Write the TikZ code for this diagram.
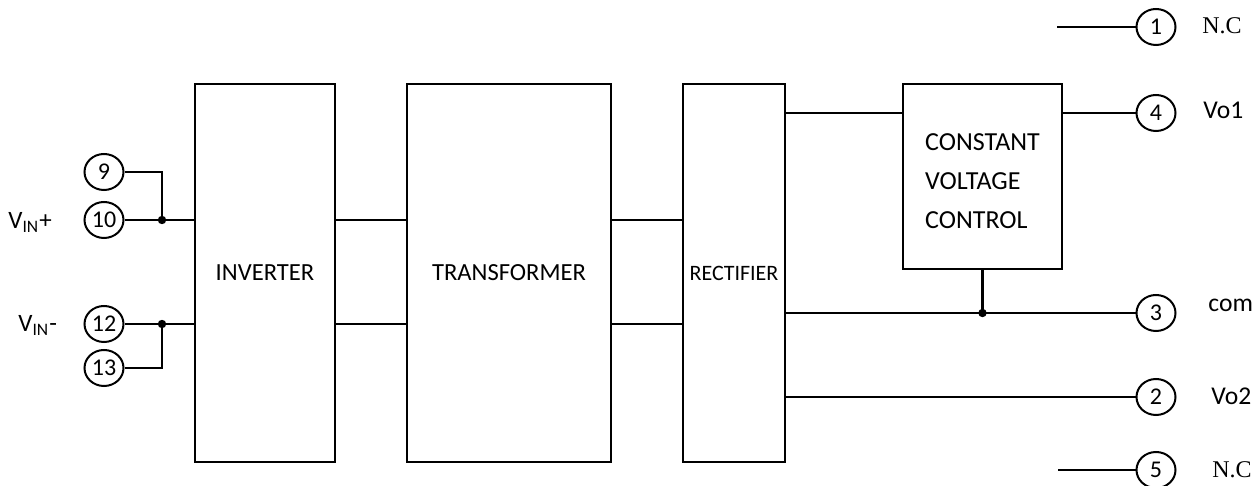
\documentclass[tikz,border=0pt]{standalone}
\usepackage{fontspec}
\setmainfont{Carlito}
\newfontfamily\ncfont{Liberation Serif}
\usetikzlibrary{positioning}
\usetikzlibrary{shapes.geometric}
\tikzset{blk/.style={draw, line width=1.4pt, minimum height=189pt, inner sep=0pt, font=\fontsize{12.3}{19.5}\selectfont}}
\tikzset{pin/.style={draw, ellipse, line width=1pt, minimum width=19.5pt, minimum height=18pt, inner sep=0pt, fill=white, font=\fontsize{12}{12}\selectfont}}
\tikzset{wire/.style={line width=1.2pt}}
\tikzset{jdot/.style={circle, fill, inner sep=0pt, minimum size=4.2pt}}
\tikzset{lbl/.style={anchor=base west, inner sep=0pt, font=\fontsize{12.8}{14}\selectfont}}

\begin{document}
\begin{tikzpicture}[x=0.5pt,y=-0.5pt]
\useasboundingbox (0,0) rectangle (1255,486);

% blocks
\node[blk, minimum width=70pt] (inv) at (265,273) {INVERTER};
\node[blk, minimum width=102pt] (tr) at (509,273) {TRANSFORMER};
\node[blk, minimum width=51pt, font=\fontsize{11}{12}\selectfont] (rect) at (734,273) {RECTIFIER};
\node[blk, minimum width=79.5pt, minimum height=92.5pt] (cvc) at (982.5,176.5) {};
\node[align=left, inner sep=0pt, font=\fontsize{13}{19.5}\selectfont] (cvct) at ([yshift=-2.5pt]cvc.center) {CONSTANT\\VOLTAGE\\CONTROL};

% input pins
\node[pin] (p9) at (104,172) {9};
\node[pin] (p10) at (104,220) {10};
\node[pin] (p12) at (104,324) {12};
\node[pin] (p13) at (104,368) {13};
\node[lbl, font=\fontsize{12.5}{14}\selectfont] (vp) at (8,229) {V\textsubscript{IN}+};
\node[lbl, font=\fontsize{12.5}{14}\selectfont] (vm) at (18,332) {V\textsubscript{IN}-};

% output pins
\node[pin] (p1) at (1156,27) {1};
\node[pin] (p4) at (1156,113) {4};
\node[pin] (p3) at (1156,313) {3};
\node[pin] (p2) at (1156,397) {2};
\node[pin] (p5) at (1156,470) {5};
\node[lbl, font=\fontsize{12}{14}\selectfont] (l1) at (1202,34) {\ncfont N.C};
\node[lbl] (l4) at (1203,119) {Vo1};
\node[lbl] (l3) at (1208,312) {com};
\node[lbl] (l2) at (1211,405) {Vo2};
\node[lbl, font=\fontsize{12}{14}\selectfont] (l5) at (1212,478) {\ncfont N.C};

\coordinate (nc1) at (1057,27);
\coordinate (nc5) at (1058,470);
\node[jdot] (jp) at (162,220) {};
\node[jdot] (jm) at (162,324) {};
\node[jdot] (jc) at (cvc.south |- p3) {};

% wiring
\draw[wire] (p9.east) -| (jp.center);
\draw[wire] (p10.east) -- (p10 -| inv.west);
\draw[wire] (p13.east) -| (jm.center);
\draw[wire] (p12.east) -- (p12 -| inv.west);

\draw[wire] (inv.east |- p10) -- (tr.west |- p10);
\draw[wire] (inv.east |- p12) -- (tr.west |- p12);
\draw[wire] (tr.east |- p10) -- (rect.west |- p10);
\draw[wire] (tr.east |- p12) -- (rect.west |- p12);

\draw[wire] (rect.east |- p4) -- (cvc.west |- p4);
\draw[wire] (cvc.east |- p4) -- (p4.west);
\draw[wire] (rect.east |- p3) -- (p3.west);
\draw[wire] (cvc.south) -- (jc.center);
\draw[wire] (rect.east |- p2) -- (p2.west);
\draw[wire] (nc1) -- (p1.west);
\draw[wire] (nc5) -- (p5.west);
\end{tikzpicture}
\end{document}
